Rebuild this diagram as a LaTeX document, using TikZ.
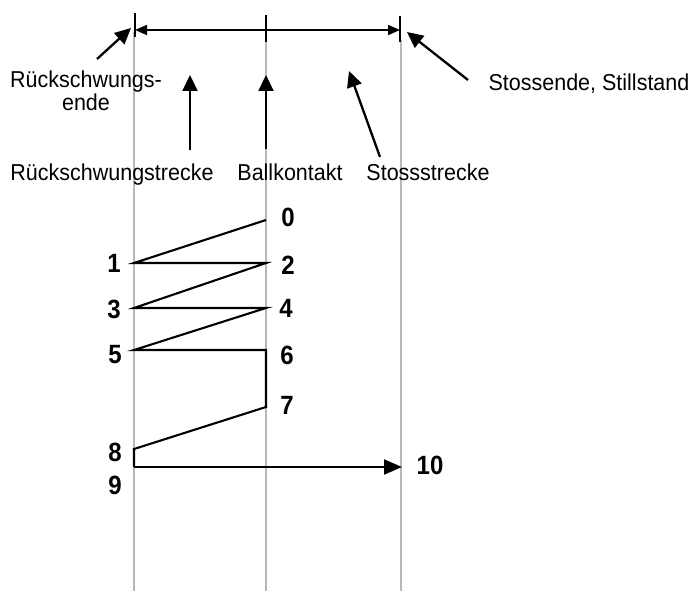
\documentclass[tikz,border=0pt]{standalone}
\usepackage{fontspec}
\setmainfont{Liberation Sans}
\usetikzlibrary{arrows.meta}
% slightly taller lettering
\newcommand{\tallish}[1]{\scalebox{1}[1.07]{#1}}
\newcommand{\tallnum}[1]{\scalebox{1}[1.1]{#1}}
\begin{document}
\begin{tikzpicture}[x=1pt,y=-1pt,
  guide/.style={draw=black!28, line width=1.4pt},
  tickmark/.style={draw=black, line width=1.8pt},
  dimline/.style={draw=black, line width=1.8pt,
    {Triangle[length=12pt,width=10pt]}-{Triangle[length=12pt,width=10pt]}},
  pointer/.style={draw=black, line width=2.3pt, -{Triangle[length=16pt,width=15pt]}},
  lbl/.style={font=\fontsize{21.5}{21}\selectfont, inner sep=0pt},
  num/.style={font=\fontsize{24}{26}\selectfont\bfseries, inner sep=0pt},
  stroke/.style={draw=black, line width=2.1pt, line join=miter},
]
\useasboundingbox (0,0) rectangle (693,591);

% vertical guide lines: end of back-swing, ball contact, end of stroke
\draw[guide] (134,32) -- (134,591);
\draw[guide] (266,40) -- (266,591);
\draw[guide] (401,40) -- (401,591);

% dimension line with ticks
\coordinate (dl) at (135,30);
\coordinate (dr) at (400,30);
\draw[tickmark] (135,13) -- (135,37);
\draw[tickmark] (266,15) -- (266,42);
\draw[tickmark] (400,16) -- (400,42);
\draw[dimline] (dl) -- (dr);

% labels
\node[lbl, align=center, anchor=north] (ende) at (86,71) {\tallish{Rückschwungs-}\\\tallish{ende}};
\node[lbl, anchor=base] (still) at (589,91) {\tallish{Stossende, Stillstand}};
\node[lbl, anchor=base] (rueck) at (112,180) {\tallish{Rückschwungstrecke}};
\node[lbl, anchor=base] (ball) at (290,180) {\tallish{Ballkontakt}};
\node[lbl, anchor=base] (stoss) at (428,180) {\tallish{Stossstrecke}};

% pointers from labels
\coordinate (a1s) at (97,59);   \coordinate (a1e) at (131,28);
\coordinate (a2s) at (190,150); \coordinate (a2e) at (190,75);
\coordinate (a3s) at (266,149); \coordinate (a3e) at (266,75);
\coordinate (a4s) at (380,157); \coordinate (a4e) at (349,71);
\coordinate (a5s) at (468,80);  \coordinate (a5e) at (407,32);
\draw[pointer] (a1s) -- (a1e);
\draw[pointer] (a2s) -- (a2e);
\draw[pointer] (a3s) -- (a3e);
\draw[pointer] (a4s) -- (a4e);
\draw[pointer] (a5s) -- (a5e);

% stroke sequence points
\coordinate (p0) at (266,220);
\coordinate (p1) at (134,263);
\coordinate (p2) at (266,263);
\coordinate (p3) at (134,308);
\coordinate (p4) at (266,308);
\coordinate (p5) at (134,350);
\coordinate (p6) at (266,350);
\coordinate (p7) at (266,407);
\coordinate (p8) at (134,449);
\coordinate (p9) at (134,467);
\coordinate (p10) at (402,467);

\draw[stroke] (p0) -- (p1) -- (p2) -- (p3) -- (p4) -- (p5) -- (p6) -- (p7) -- (p8) -- (p9);
\draw[stroke, -{Triangle[length=18pt,width=15pt]}] (p9) -- (p10);

% point numbers
\node[num] (n0) at (288,217) {\tallnum{0}};
\node[num] (n1) at (114,263) {\tallnum{1}};
\node[num] (n2) at (288,265) {\tallnum{2}};
\node[num] (n3) at (114,309) {\tallnum{3}};
\node[num] (n4) at (286,308) {\tallnum{4}};
\node[num] (n5) at (115,355) {\tallnum{5}};
\node[num] (n6) at (287,355) {\tallnum{6}};
\node[num] (n7) at (287,405) {\tallnum{7}};
\node[num] (n8) at (115,452) {\tallnum{8}};
\node[num] (n9) at (115,485) {\tallnum{9}};
\node[num] (n10) at (430,465) {\tallnum{10}};
\end{tikzpicture}
\end{document}
